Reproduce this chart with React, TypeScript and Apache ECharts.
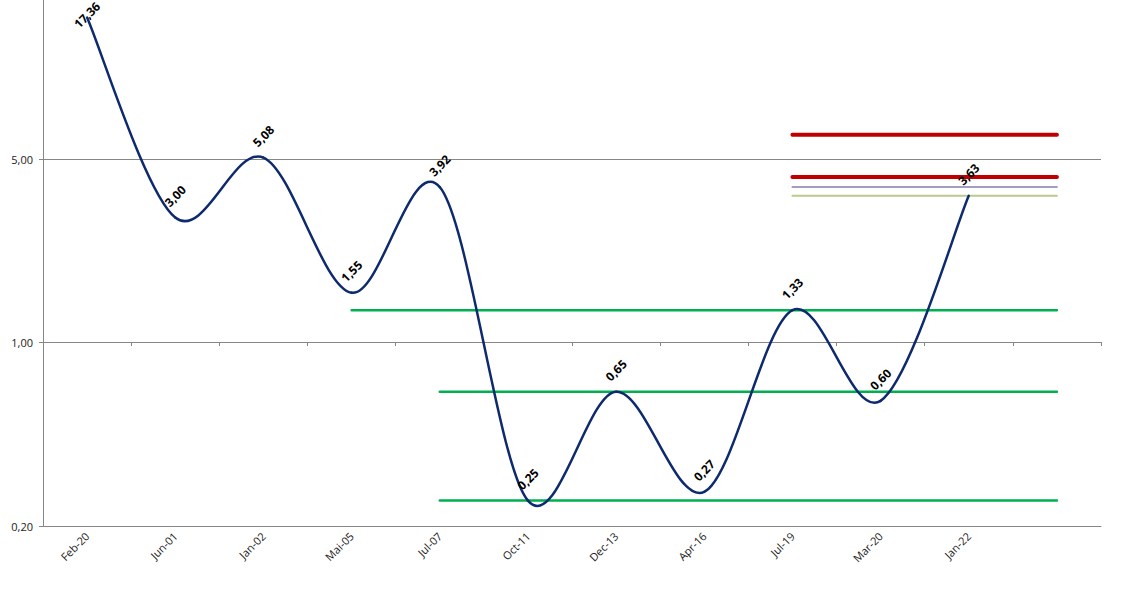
import React, { useEffect, useRef } from "react";
import * as echarts from "echarts";

const categories = ["Feb-20", "Jun-01", "Jan-02", "Mai-05", "Jul-07", "Oct-11", "Dec-13", "Apr-16", "Jul-19", "Mar-20", "Jan-22", ""];
const mainValues = [17.36, 3.0, 5.08, 1.55, 3.92, 0.25, 0.65, 0.27, 1.33, 0.6, 3.63, null];

// horizontal reference levels: value + first category index where they start
const greenHighLevel = 1.33;
const greenHighStart = 3;
const greenMidLevel = 0.65;
const greenMidStart = 4;
const greenLowLevel = 0.25;
const greenLowStart = 4;
const redTopLevel = 6.2;
const redBottomLevel = 4.28;
const purpleLevel = 3.92;
const lightGreenLevel = 3.63;
const upperStart = 8;

const yTicks = [0.2, 1, 5, 25];

const levelSeries = (level: number, start: number) =>
  categories.map((_, i) => (i >= start ? level : null));

const fmt = (v: number) => v.toFixed(2).replace(".", ",");

export default function App() {
  const ref = useRef<HTMLDivElement>(null);
  useEffect(() => {
    if (!ref.current) return;
    const chart = echarts.init(ref.current, null, { renderer: "svg" });
    const font = "'Open Sans', 'Noto Sans', sans-serif";
    const lineColor = "#0E2A6E";
    const flat = (name: string, data: (number | null)[], color: string, width: number) => ({
      name,
      type: "line",
      data,
      symbol: "none",
      silent: true,
      lineStyle: { color, width, cap: "round" },
      z: 2,
    });
    const lastIdx = mainValues.reduce((acc: number, v, i) => (v != null ? i : acc), 0);
    const segData = mainValues.slice(0, lastIdx).map((v, i) => [i, v]);
    const labelData = mainValues.map((v, i) =>
      i === 0 ? { value: v, label: { distance: 2 } } : v
    );
    chart.setOption({
      animation: false,
      grid: { left: 43, right: 45, top: 0, bottom: 80, outerBoundsMode: "none", containLabel: false },
      xAxis: [
        {
          type: "category",
          data: categories,
          boundaryGap: true,
          axisLine: { show: true, lineStyle: { color: "#868686", width: 1 } },
          axisTick: { show: false },
          axisLabel: {
            rotate: 45,
            interval: 0,
            fontSize: 11,
            fontFamily: font,
            color: "#1a1a1a",
            margin: 8,
          },
        },
        {
          type: "category",
          data: categories,
          position: "bottom",
          offset: -184,
          boundaryGap: true,
          axisLine: { show: false },
          axisTick: { show: true, length: 4, lineStyle: { color: "#868686" } },
          axisLabel: { show: false },
        },
      ],
      yAxis: {
        type: "log",
        logBase: 5,
        min: yTicks[0],
        max: yTicks[yTicks.length - 1],
        interval: 1,
        axisLine: { show: true, lineStyle: { color: "#868686", width: 1 } },
        axisTick: { show: true, length: 4, lineStyle: { color: "#868686" } },
        splitLine: { show: true, lineStyle: { color: "#868686", width: 1 } },
        axisLabel: {
          formatter: (v: number) => (v > 20 ? "" : fmt(v)),
          fontSize: 11,
          fontFamily: font,
          color: "#1a1a1a",
          margin: 10,
        },
      },
      series: [
        flat("g1", levelSeries(greenHighLevel, greenHighStart), "#00B050", 2.5),
        flat("g2", levelSeries(greenMidLevel, greenMidStart), "#00B050", 2.5),
        flat("g3", levelSeries(greenLowLevel, greenLowStart), "#00B050", 2.5),
        flat("r1", levelSeries(redTopLevel, upperStart), "#C00000", 4),
        flat("r2", levelSeries(redBottomLevel, upperStart), "#C00000", 4),
        flat("p", levelSeries(purpleLevel, upperStart), "#A39DC2", 2),
        flat("lg", levelSeries(lightGreenLevel, upperStart), "#B6CC8C", 2),
        {
          name: "mainCurve",
          type: "custom",
          coordinateSystem: "cartesian2d",
          data: segData,
          encode: { x: 0, y: 1 },
          silent: true,
          z: 5,
          renderItem: (params: any, api: any) => {
            const i = params.dataIndex;
            const P = (k: number) => {
              const kk = Math.max(0, Math.min(lastIdx, k));
              return api.coord([kk, mainValues[kk] as number]);
            };
            const p0 = P(i - 1);
            const p1 = P(i);
            const p2 = P(i + 1);
            const p3 = P(i + 2);
            return {
              type: "bezierCurve",
              shape: {
                x1: p1[0],
                y1: p1[1],
                x2: p2[0],
                y2: p2[1],
                cpx1: p1[0] + (p2[0] - p0[0]) / 6,
                cpy1: p1[1] + (p2[1] - p0[1]) / 6,
                cpx2: p2[0] - (p3[0] - p1[0]) / 6,
                cpy2: p2[1] - (p3[1] - p1[1]) / 6,
              },
              style: { stroke: lineColor, lineWidth: 2.5, fill: "none", lineCap: "round" },
            };
          },
        },
        {
          name: "main",
          type: "line",
          data: labelData,
          symbol: "circle",
          symbolSize: 1,
          showSymbol: true,
          z: 6,
          silent: true,
          itemStyle: { color: "transparent" },
          lineStyle: { width: 0, opacity: 0 },
          label: {
            show: true,
            position: "top",
            distance: 21,
            rotate: 45,
            align: "center",
            verticalAlign: "middle",
            fontSize: 12,
            fontWeight: "bold",
            fontFamily: font,
            color: "#000",
            formatter: (p: any) => (p.value == null ? "" : fmt(p.value)),
          },
        },
      ],
    });
    return () => chart.dispose();
  }, []);
  return (
    <div
      ref={ref}
      style={{ position: "fixed", left: 0, top: -24, width: 1146, height: 630, background: "#fff" }}
    />
  );
}
